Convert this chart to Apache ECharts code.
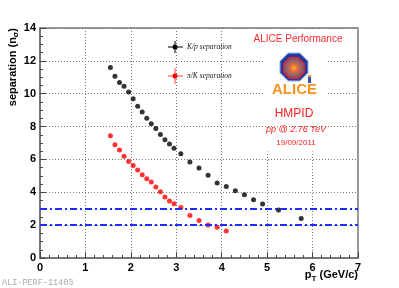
<!DOCTYPE html>
<html><head><meta charset="utf-8">
<script src="https://cdn.jsdelivr.net/npm/echarts@6/dist/echarts.min.js"></script>
<style>html,body{margin:0;padding:0;background:#fff}#c{width:399px;height:288px}</style>
</head><body><div id="c"></div>
<script>
// K/p separation
var kpX = [1.55,1.65,1.75,1.85,1.95,2.05,2.15,2.25,2.35,2.45,2.55,2.65,2.75,2.85,2.95,3.1,3.3,3.5,3.7,3.9,4.1,4.3,4.5,4.7,4.9,5.25,5.75];
var kpY = [11.6,11.06,10.68,10.45,10.11,9.69,9.24,8.88,8.5,8.17,7.88,7.52,7.2,6.94,6.68,6.35,5.85,5.48,5.04,4.56,4.35,4.09,3.85,3.55,3.29,2.92,2.41];
// pi/K separation
var pkX = [1.55,1.65,1.75,1.85,1.95,2.05,2.15,2.25,2.35,2.45,2.55,2.65,2.75,2.85,2.95,3.1,3.3,3.5,3.7,3.9,4.1];
var pkY = [7.44,6.9,6.58,6.19,5.87,5.63,5.36,5.06,4.82,4.62,4.32,4.03,3.71,3.47,3.3,3.08,2.58,2.29,2.01,1.87,1.65];
// reference lines
var refLines = [3, 2];
var xTicks = [0,1,2,3,4,5,6,7];
var yTicks = [0,2,4,6,8,10,12,14];

function zip(a,b){return a.map(function(v,i){return [v,b[i]];});}
function octagon(cx,cy,r){var p=[];for(var i=0;i<8;i++){var a=Math.PI/8+i*Math.PI/4;p.push([cx+r*Math.cos(a),cy+r*Math.sin(a)]);}return p;}

var chart = echarts.init(document.getElementById('c'));
var lblFont = {color:'#000', fontFamily:'Liberation Sans', fontWeight:'bold', fontSize:11};
chart.setOption({
  animation:false,
  backgroundColor:'#fff',
  grid:{left:40,right:41,top:28,bottom:30,show:true,borderColor:'#333',borderWidth:1},
  xAxis:[{type:'value',min:xTicks[0],max:xTicks[xTicks.length-1],interval:1,
    axisLine:{show:true,onZero:false,lineStyle:{color:'#777',width:2}},
    axisTick:{show:true,inside:true,length:6,lineStyle:{color:'#444'}},
    minorTick:{show:true,splitNumber:5,length:3,lineStyle:{color:'#444'}},
    axisLabel:Object.assign({margin:4},lblFont),
    splitLine:{show:true,lineStyle:{color:'#777',type:[1,2],width:1}}
  }],
  yAxis:[{type:'value',min:yTicks[0],max:yTicks[yTicks.length-1],interval:2,
    axisLine:{show:true,onZero:false,lineStyle:{color:'#777',width:2}},
    axisTick:{show:true,inside:true,length:6,lineStyle:{color:'#444'}},
    minorTick:{show:true,splitNumber:4,length:3,lineStyle:{color:'#444'}},
    axisLabel:Object.assign({margin:4},lblFont),
    splitLine:{show:true,lineStyle:{color:'#777',type:[1,2],width:1}}
  },{type:'value',position:'right',min:0,max:14,interval:2,
    axisLine:{show:true,onZero:false,lineStyle:{color:'#999',width:2}},
    axisTick:{show:false},axisLabel:{show:false},splitLine:{show:false}}],
  series:[
    {type:'scatter',name:'K/p separation',data:zip(kpX,kpY),symbolSize:5,itemStyle:{color:'#000'},z:4,
     markLine:{silent:true,symbol:'none',label:{show:false},
       lineStyle:{color:'#1f2bff',width:2,type:[7,3,2,3]},
       data:refLines.map(function(v){return {yAxis:v};})}},
    {type:'scatter',name:'π/K separation',data:zip(pkX,pkY),symbolSize:5,itemStyle:{color:'#ff0000'},z:4}
  ],
  graphic:[
    {type:'rect',z:1,shape:{x:263,y:29,width:65,height:97},style:{fill:'#fff'}},
    {type:'rect',z:1,shape:{x:263,y:129.5,width:65,height:22},style:{fill:'#fff'}},
    // legend
    {type:'line',z:5,shape:{x1:168,y1:47,x2:183,y2:47},style:{stroke:'#000',lineWidth:1}},
    {type:'line',z:5,shape:{x1:175,y1:41,x2:175,y2:53},style:{stroke:'#000',lineWidth:1}},
    {type:'circle',z:5,shape:{cx:175,cy:47,r:2.5},style:{fill:'#000'}},
    {type:'text',z:5,x:187,y:47,style:{text:'K/p separation',font:'italic 7.5px "Liberation Serif"',fill:'#222',textVerticalAlign:'middle'}},
    {type:'line',z:5,shape:{x1:168,y1:76,x2:183,y2:76},style:{stroke:'#ff4040',lineWidth:1}},
    {type:'line',z:5,shape:{x1:175,y1:68,x2:175,y2:84},style:{stroke:'#ff4040',lineWidth:1}},
    {type:'circle',z:5,shape:{cx:175,cy:76,r:2.5},style:{fill:'#ff0000'}},
    {type:'text',z:5,x:187,y:76,style:{text:'π/K separation',font:'italic 7.5px "Liberation Serif"',fill:'#222',textVerticalAlign:'middle'}},
    // annotations
    {type:'text',z:5,x:298,y:39,style:{text:'ALICE Performance',font:'10px "Liberation Sans"',fill:'#ff2a2a',textAlign:'center',textVerticalAlign:'middle'}},
    {type:'polygon',z:5,shape:{points:octagon(294,67,15)},style:{fill:'#27389a',stroke:'#5b8fd6',lineWidth:1}},
    {type:'polygon',z:6,shape:{points:octagon(294,68,11)},style:{fill:{type:'radial',x:0.5,y:0.5,r:0.5,colorStops:[{offset:0,color:'#ffb020'},{offset:0.35,color:'#e06a40'},{offset:1,color:'#5a5a8a'}]},stroke:'#ff2020',lineWidth:1.2}},
    {type:'rect',z:6,shape:{x:308,y:77,width:3,height:6},style:{fill:'#3050c0'}},
    {type:'rect',z:6,shape:{x:308,y:75,width:3,height:2},style:{fill:'#f7941d'}},
    {type:'text',z:6,x:294.5,y:90,style:{text:'ALICE',font:'bold 15px "Liberation Sans"',fill:'#f7941d',textAlign:'center',textVerticalAlign:'middle'}},
    {type:'text',z:5,x:294,y:114,style:{text:'HMPID',font:'12px "Liberation Sans"',fill:'#ff2020',textAlign:'center',textVerticalAlign:'middle'}},
    {type:'text',z:5,x:296,y:129,style:{text:'pp @ 2.76 TeV',font:'italic 9px "Liberation Sans"',fill:'#ff2020',textAlign:'center',textVerticalAlign:'middle'}},
    {type:'text',z:5,x:296,y:143,style:{text:'19/09/2011',font:'8px "Liberation Sans"',fill:'#ff2020',textAlign:'center',textVerticalAlign:'middle'}},
    // axis titles
    {type:'text',z:5,x:13,y:28,rotation:Math.PI/2,style:{text:'{a|separation (n}{b|σ}{a|)}',textAlign:'right',textVerticalAlign:'middle',
      rich:{a:{fontFamily:'Liberation Sans',fontWeight:'bold',fontSize:11,fill:'#000',color:'#000'},b:{fontFamily:'Liberation Sans',fontWeight:'bold',fontSize:8,color:'#000',padding:[6,0,0,0]}}}},
    {type:'text',z:5,x:358,y:275,style:{text:'{a|p}{b|T}{a| (GeV/c)}',textAlign:'right',textVerticalAlign:'middle',
      rich:{a:{fontFamily:'Liberation Sans',fontWeight:'bold',fontSize:11,color:'#000'},b:{fontFamily:'Liberation Sans',fontWeight:'bold',fontSize:8,color:'#000',padding:[7,0,0,0]}}}},
    {type:'text',z:5,x:2,y:283,style:{text:'ALI-PERF-11403',font:'8.5px "Liberation Mono"',fill:'#aaa',textVerticalAlign:'middle'}}
  ]
});
</script></body></html>
